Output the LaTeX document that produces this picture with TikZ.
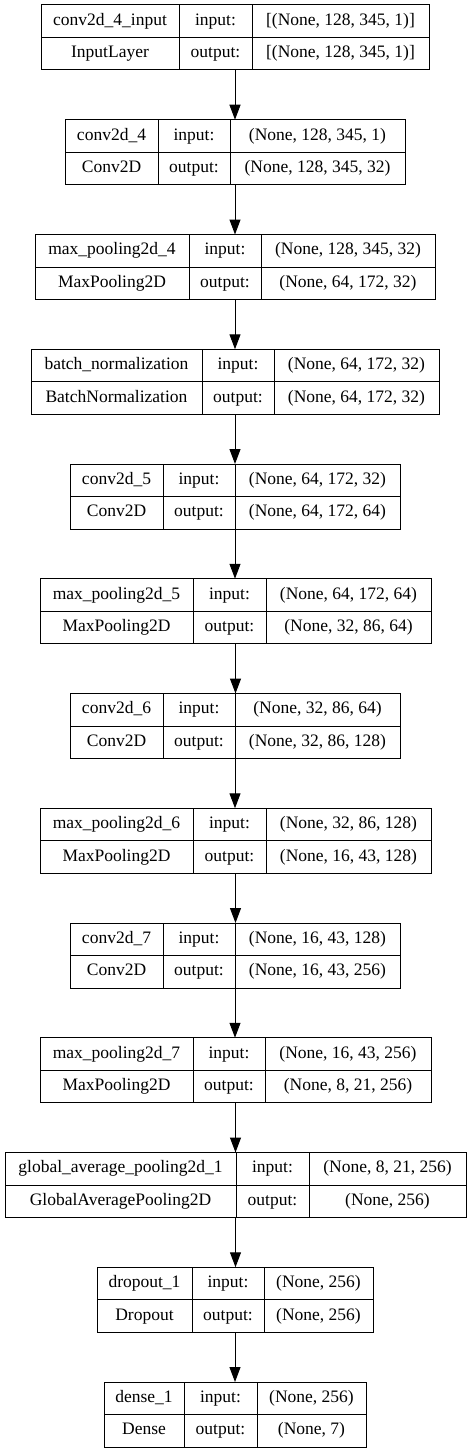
\documentclass[tikz,border=0pt]{standalone}
\usepackage{fontspec}
\setmainfont{Liberation Serif}
\usetikzlibrary{arrows.meta, fit}

\tikzset{
  cell/.style={draw, line width=1pt, inner sep=0pt, outer sep=0pt, minimum height=32.5pt,
    text height=12pt, text depth=4pt, anchor=north west, font=\fontsize{17.5}{20}\selectfont},
  box/.style={inner sep=0pt, outer sep=0pt},
  arr/.style={-{Triangle[length=15pt,width=11pt]}, line width=1pt}
}

% #1 layer no., #2..#5 cell edges, #6 name, #7 class, #8 input, #9 output
\newcommand{\layer}[9]{
  \pgfmathsetmacro{\ytop}{-5-(#1-1)*114.75}
  \pgfmathsetmacro{\ymid}{\ytop-32.5}
  \node[cell, minimum width=#3pt-#2pt] (L#1-n)  at (#2,\ytop) {#6};
  \node[cell, minimum width=#4pt-#3pt] (L#1-il) at (#3,\ytop) {input:};
  \node[cell, minimum width=#5pt-#4pt] (L#1-i)  at (#4,\ytop) {#8};
  \node[cell, minimum width=#3pt-#2pt] (L#1-t)  at (#2,\ymid) {#7};
  \node[cell, minimum width=#4pt-#3pt] (L#1-ol) at (#3,\ymid) {output:};
  \node[cell, minimum width=#5pt-#4pt] (L#1-o)  at (#4,\ymid) {#9};
  \node[box, fit=(L#1-n)(L#1-o)] (L#1) {};
}

\begin{document}
\begin{tikzpicture}[x=1pt, y=1pt]
\useasboundingbox (0,0) rectangle (471,-1453);

\layer{1}{41}{179}{252}{429}{conv2d\_4\_input}{InputLayer}{[(None, 128, 345, 1)]}{[(None, 128, 345, 1)]}
\layer{2}{65}{158}{230}{405}{conv2d\_4}{Conv2D}{(None, 128, 345, 1)}{(None, 128, 345, 32)}
\layer{3}{35}{189}{261}{435}{max\_pooling2d\_4}{MaxPooling2D}{(None, 128, 345, 32)}{(None, 64, 172, 32)}
\layer{4}{31}{202}{274}{439}{batch\_normalization}{BatchNormalization}{(None, 64, 172, 32)}{(None, 64, 172, 32)}
\layer{5}{70}{163}{235}{400}{conv2d\_5}{Conv2D}{(None, 64, 172, 32)}{(None, 64, 172, 64)}
\layer{6}{40}{193}{266}{431}{max\_pooling2d\_5}{MaxPooling2D}{(None, 64, 172, 64)}{(None, 32, 86, 64)}
\layer{7}{70}{163}{235}{400}{conv2d\_6}{Conv2D}{(None, 32, 86, 64)}{(None, 32, 86, 128)}
\layer{8}{40}{193}{266}{431}{max\_pooling2d\_6}{MaxPooling2D}{(None, 32, 86, 128)}{(None, 16, 43, 128)}
\layer{9}{70}{163}{235}{400}{conv2d\_7}{Conv2D}{(None, 16, 43, 128)}{(None, 16, 43, 256)}
\layer{10}{40}{193}{265}{431}{max\_pooling2d\_7}{MaxPooling2D}{(None, 16, 43, 256)}{(None, 8, 21, 256)}
\layer{11}{5}{236}{309}{466}{global\_average\_pooling2d\_1}{GlobalAveragePooling2D}{(None, 8, 21, 256)}{(None, 256)}
\layer{12}{97}{192}{264}{373}{dropout\_1}{Dropout}{(None, 256)}{(None, 256)}
\layer{13}{104}{184}{257}{366}{dense\_1}{Dense}{(None, 256)}{(None, 7)}

\draw[arr] (L1.south) -- (L1.south |- L2.north);
\draw[arr] (L2.south) -- (L2.south |- L3.north);
\draw[arr] (L3.south) -- (L3.south |- L4.north);
\draw[arr] (L4.south) -- (L4.south |- L5.north);
\draw[arr] (L5.south) -- (L5.south |- L6.north);
\draw[arr] (L6.south) -- (L6.south |- L7.north);
\draw[arr] (L7.south) -- (L7.south |- L8.north);
\draw[arr] (L8.south) -- (L8.south |- L9.north);
\draw[arr] (L9.south) -- (L9.south |- L10.north);
\draw[arr] (L10.south) -- (L10.south |- L11.north);
\draw[arr] (L11.south) -- (L11.south |- L12.north);
\draw[arr] (L12.south) -- (L12.south |- L13.north);
\end{tikzpicture}
\end{document}
